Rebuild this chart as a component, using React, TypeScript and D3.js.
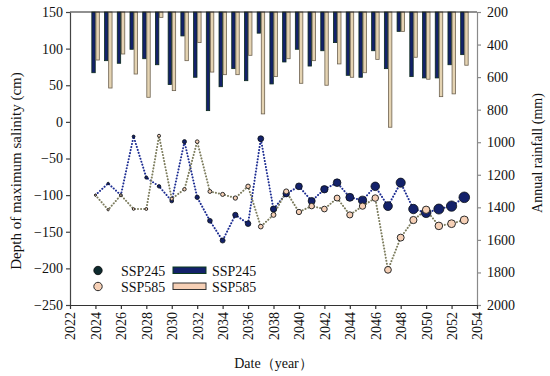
import { useEffect, useRef } from "react";
import * as d3 from "d3";

// years and values
const years = [
  2024, 2025, 2026, 2027, 2028, 2029, 2030, 2031, 2032, 2033, 2034, 2035, 2036, 2037, 2038,
  2039, 2040, 2041, 2042, 2043, 2044, 2045, 2046, 2047, 2048, 2049, 2050, 2051, 2052, 2053,
];
const rain245 = [
  573, 499, 515, 429, 487, 524, 646, 347, 601, 806, 659, 548, 622, 330, 642,
  507, 429, 532, 438, 388, 589, 601, 438, 548, 319, 597, 605, 605, 524, 462,
];
const rain585 = [
  495, 667, 458, 581, 724, 233, 683, 499, 388, 569, 585, 585, 466, 826, 597,
  487, 638, 499, 650, 519, 601, 573, 491, 908, 319, 478, 613, 720, 703, 527,
];
const depth245 = [
  -100, -84, -100, -20, -76, -88, -108, -27, -103, -135, -162, -127, -139, -23, -119,
  -98, -88, -108, -92, -83, -103, -107, -88, -115, -83, -119, -124, -119, -115, -103,
];
const depth585 = [
  -100, -120, -100, -119, -119, -19, -105, -92, -27, -95, -99, -104, -88, -143, -127,
  -95, -123, -115, -119, -104, -127, -115, -104, -202, -158, -134, -120, -142, -139, -134,
];
const xTicks = [2022, 2024, 2026, 2028, 2030, 2032, 2034, 2036, 2038, 2040, 2042, 2044, 2046, 2048, 2050, 2052, 2054];
const leftTicks = [150, 100, 50, 0, -50, -100, -150, -200, -250];
const rightTicks = [200, 400, 600, 800, 1000, 1200, 1400, 1600, 1800, 2000];

const W = 550;
const H = 376;
const margin = { top: 12, right: 73, bottom: 71, left: 70 };
const font = "'Liberation Serif', 'Times New Roman', serif";

const C245 = "#13216a";
const C585 = "#f6d0b6";

export default function App() {
  const leftRef = useRef<SVGGElement>(null);
  const rightRef = useRef<SVGGElement>(null);
  const bottomRef = useRef<SVGGElement>(null);

  const x = d3.scaleLinear().domain([2022, 2054]).range([margin.left, W - margin.right]);
  const yL = d3.scaleLinear().domain([-250, 150]).range([H - margin.bottom, margin.top]);
  const yR = d3.scaleLinear().domain([200, 2000]).range([margin.top, H - margin.bottom]);
  // markers grow over the period, like the reference
  const r245 = d3.scaleLinear().domain([2024, 2053]).range([1, 5.3]);
  const r585 = d3.scaleLinear().domain([2024, 2053]).range([1, 4]);

  const depthLine = d3
    .line<number>()
    .x((_, i) => x(years[i]))
    .y((d) => yL(d));

  useEffect(() => {
    const style = (g: d3.Selection<SVGGElement, unknown, null, undefined>, col: string) => {
      g.select(".domain").attr("stroke", col).attr("stroke-width", 1.2);
      g.selectAll(".tick line").attr("stroke", col).attr("stroke-width", 1.2);
      g.selectAll(".tick text")
        .attr("fill", "#111")
        .style("font-family", font)
        .style("font-size", "14px");
    };

    const left = d3.select(leftRef.current!);
    left.call(d3.axisLeft(yL).tickValues(leftTicks).tickSize(4).tickSizeOuter(0).tickPadding(3));
    style(left, "#444");

    const right = d3.select(rightRef.current!);
    right.call(d3.axisRight(yR).tickValues(rightTicks).tickSize(4).tickSizeOuter(0).tickPadding(6).tickFormat(d3.format("d")));
    style(right, "#8a8a8a");

    const bottom = d3.select(bottomRef.current!);
    bottom.call(d3.axisBottom(x).tickValues(xTicks).tickSize(4).tickSizeOuter(0).tickFormat(d3.format("d")));
    style(bottom, "#333");
    bottom
      .selectAll(".tick text")
      .attr("transform", "rotate(-90)")
      .attr("x", -7)
      .attr("y", 0)
      .attr("dy", "0.35em")
      .attr("text-anchor", "end");
  }, []);

  const bw = 3.4;

  return (
    <div style={{ position: "absolute", left: 0, top: 0 }}>
      <svg width={W} height={H} style={{ display: "block", background: "#fff" }}>
        {/* rainfall bars hanging from the top */}
        <g>
          {years.map((yr, i) => (
            <rect
              key={"b245" + yr}
              x={x(yr) - bw - 0.2}
              y={yR(200)}
              width={bw}
              height={yR(rain245[i]) - yR(200)}
              fill={C245}
              stroke="#0b2a1c"
              strokeWidth={0.8}
            />
          ))}
          {years.map((yr, i) => (
            <rect
              key={"b585" + yr}
              x={x(yr) + 0.5}
              y={yR(200)}
              width={bw}
              height={yR(rain585[i]) - yR(200)}
              fill="#e4d3b2"
              stroke="#6e6250"
              strokeWidth={0.8}
            />
          ))}
        </g>

        {/* dotted lines */}
        <path
          d={depthLine(depth245) ?? ""}
          fill="none"
          stroke="#1d2d92"
          strokeWidth={2}
          strokeDasharray="0.1 3"
          strokeLinecap="round"
        />
        <path
          d={depthLine(depth585) ?? ""}
          fill="none"
          stroke="#7d7d5e"
          strokeWidth={2}
          strokeDasharray="0.1 3"
          strokeLinecap="round"
        />

        {years.map((yr, i) => (
          <circle key={"p245" + yr} cx={x(yr)} cy={yL(depth245[i])} r={r245(yr)} fill={C245} stroke="#0a0f14" strokeWidth={0.8} />
        ))}
        {years.map((yr, i) => (
          <circle key={"p585" + yr} cx={x(yr)} cy={yL(depth585[i])} r={r585(yr)} fill={C585} stroke="#2a2a2a" strokeWidth={1} />
        ))}

        {/* frame */}
        <line x1={margin.left} x2={W - margin.right} y1={margin.top} y2={margin.top} stroke="#222" strokeWidth={1.2} />
        <g ref={leftRef} transform={`translate(${margin.left},0)`} />
        <g ref={rightRef} transform={`translate(${W - margin.right},0)`} />
        <g ref={bottomRef} transform={`translate(0,${H - margin.bottom})`} />

        {/* legend */}
        <g style={{ fontFamily: font, fontSize: 14 }} fill="#111">
          <circle cx={98} cy={270.5} r={4.2} fill="#0e2a2e" stroke="#0a0a0a" strokeWidth={0.8} />
          <text x={121} y={275.5}>SSP245</text>
          <circle cx={98} cy={286.5} r={4.2} fill={C585} stroke="#2a2a2a" strokeWidth={1} />
          <text x={121} y={291.5}>SSP585</text>
          <rect x={173} y={267} width={33} height={6.5} fill={C245} stroke="#0b3a1e" strokeWidth={1} />
          <text x={212} y={275.5}>SSP245</text>
          <rect x={173} y={283} width={33} height={6.5} fill={C585} stroke="#333" strokeWidth={1} />
          <text x={212} y={291.5}>SSP585</text>
        </g>

        {/* axis titles */}
        <text
          transform="translate(21,171) rotate(-90)"
          textAnchor="middle"
          style={{ fontFamily: font, fontSize: 15 }}
          fill="#111"
        >
          Depth of maximum salinity (cm)
        </text>
        <text
          transform="translate(542,153) rotate(-90)"
          textAnchor="middle"
          style={{ fontFamily: font, fontSize: 14 }}
          fill="#111"
        >
          Annual rainfall (mm)
        </text>
        <text
          x={(margin.left + W - margin.right) / 2}
          y={368}
          textAnchor="middle"
          style={{ fontFamily: font, fontSize: 14 }}
          fill="#111"
        >
          Date（year）
        </text>
      </svg>
    </div>
  );
}
